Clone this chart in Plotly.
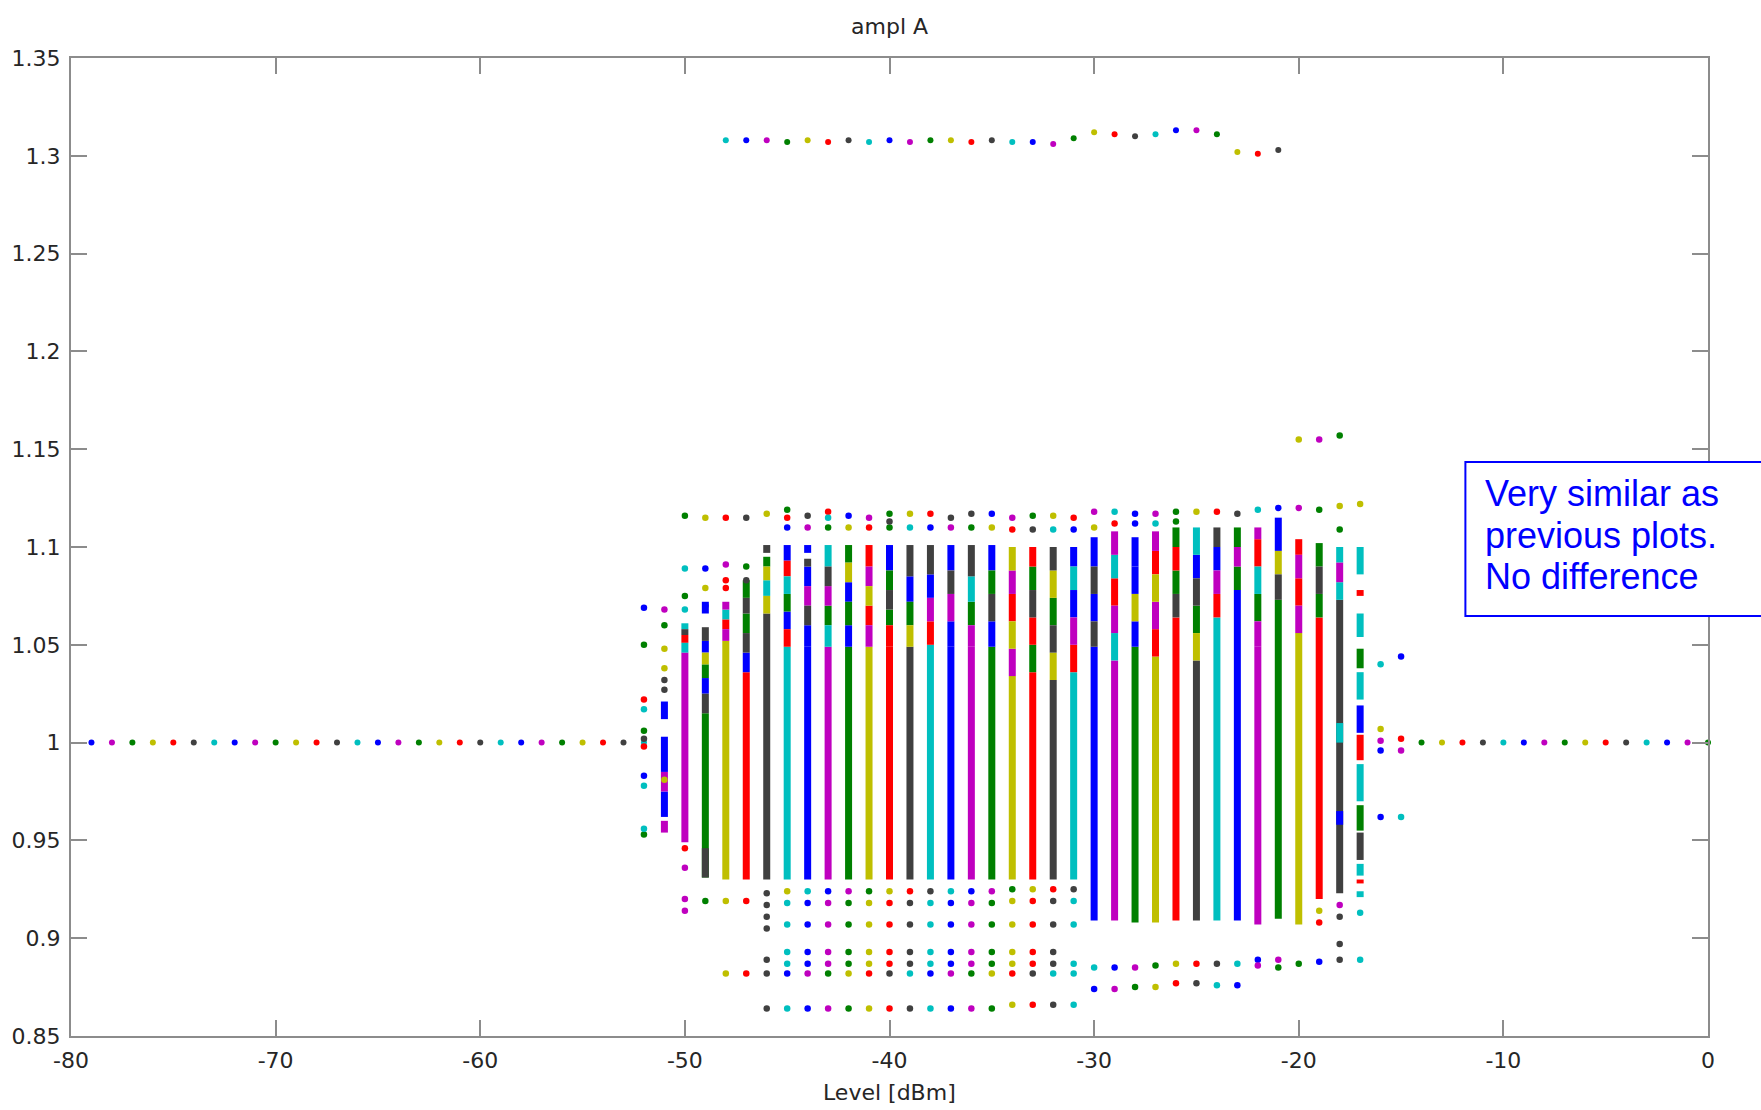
import plotly.graph_objects as go

# MATLAB-style colour order, keyed by single-letter codes
COLORS = {"b": "#0000ff", "g": "#008000", "r": "#ff0000", "c": "#00bfbf",
          "m": "#bf00bf", "y": "#bfbf00", "k": "#404040"}

# ---- flat response (ampl A = 1) at low and high levels -------------------
flat_levels = [-79, -78, -77, -76, -75, -74, -73, -72, -71, -70, -69, -68, -67, -66,
               -65, -64, -63, -62, -61, -60, -59, -58, -57, -56, -55, -54, -53, -52,
               -14, -13, -12, -11, -10, -9, -8, -7, -6, -5, -4, -3, -2, -1, 0]
flat_ampl = [1.0, 1.0, 1.0, 1.0, 1.0, 1.0, 1.0, 1.0, 1.0, 1.0, 1.0, 1.0, 1.0, 1.0,
             1.0, 1.0, 1.0, 1.0, 1.0, 1.0, 1.0, 1.0, 1.0, 1.0, 1.0, 1.0, 1.0, 1.0,
             1.0, 1.0, 1.0, 1.0, 1.0, 1.0, 1.0, 1.0, 1.0, 1.0, 1.0, 1.0, 1.0, 1.0, 1.0]
flat_colors = "bmgyrkcbmgyrkcbmgyrkcbmgyrkc" + "gyrkcbmgyrkcbmg"

# ---- upper branch around 1.3 ---------------------------------------------
upper_levels = [-48, -47, -46, -45, -44, -43, -42, -41, -40, -39, -38, -37, -36, -35,
                -34, -33, -32, -31, -30, -29, -28, -27, -26, -25, -24, -23, -22, -21]
upper_ampl = [1.308, 1.308, 1.308, 1.307, 1.308, 1.307, 1.308, 1.307, 1.308, 1.307,
              1.308, 1.308, 1.307, 1.308, 1.307, 1.307, 1.306, 1.309, 1.312, 1.311,
              1.310, 1.311, 1.313, 1.313, 1.311, 1.302, 1.301, 1.303]
upper_colors = "cbmgyrkcbmgyrkcbmgyrkcbmgyrk"

# ---- dense measurement columns: main run in the level's own colour -------
core_levels = [-50, -49, -48, -47, -46, -45, -44, -43, -42, -41, -40, -39, -38, -37,
               -36, -35, -34, -33, -32, -31, -30, -29, -28, -27, -26, -25, -24, -23,
               -22, -21, -20, -19, -18]
core_lo = [0.949, 0.931, 0.930, 0.930, 0.930, 0.930, 0.930, 0.930, 0.930, 0.930, 0.930,
           0.930, 0.930, 0.930, 0.930, 0.930, 0.930, 0.930, 0.930, 0.930, 0.909, 0.909,
           0.908, 0.908, 0.909, 0.909, 0.909, 0.909, 0.907, 0.910, 0.907, 0.920, 0.923]
core_hi = [1.046, 1.015, 1.052, 1.036, 1.066, 1.049, 1.049, 1.049, 1.049, 1.049, 1.049,
           1.049, 1.050, 1.049, 1.049, 1.049, 1.034, 1.036, 1.032, 1.036, 1.049, 1.042,
           1.049, 1.044, 1.064, 1.042, 1.064, 1.078, 1.049, 1.073, 1.056, 1.064, 1.073]
core_colors = "mgyrkcbmgyrkcbmgyrkcbmgyrkcbmgyrk"

# ---- mixed-colour stretches (upper part of the columns, sparse columns) --
mix_level = [
    -50, -50, -50, -50,
    -49, -49, -49, -49, -49, -49, -49, -49,
    -48, -48, -48, -48,
    -47, -47, -47, -47, -47,
    -46, -46, -46, -46, -46,
    -45, -45, -45, -45, -45, -45,
    -44, -44, -44, -44, -44, -44,
    -43, -43, -43, -43, -43,
    -42, -42, -42, -42, -42,
    -41, -41, -41, -41, -41,
    -40, -40, -40, -40, -40,
    -39, -39, -39, -39,
    -38, -38, -38, -38,
    -37, -37, -37, -37,
    -36, -36, -36, -36,
    -35, -35, -35, -35,
    -34, -34, -34, -34, -34,
    -33, -33, -33, -33, -33,
    -32, -32, -32, -32, -32,
    -31, -31, -31, -31, -31,
    -30, -30, -30, -30,
    -29, -29, -29, -29, -29,
    -28, -28, -28, -28,
    -27, -27, -27, -27, -27,
    -26, -26, -26, -26,
    -25, -25, -25, -25, -25,
    -24, -24, -24, -24,
    -23, -23, -23,
    -22, -22, -22, -22, -22,
    -21, -21, -21,
    -20, -20, -20, -20,
    -19, -19, -19,
    -18, -18, -18, -18, -18,
    -17, -17, -17, -17, -17, -17, -17, -17, -17, -17, -17, -17, -17,
    -51, -51, -51, -51, -51,
]
mix_lo = [
    1.046, 1.051, 1.055, 1.058,
    1.015, 1.025, 1.033, 1.040, 1.046, 1.052, 1.066, 0.931,
    1.052, 1.058, 1.063, 1.068,
    1.036, 1.046, 1.056, 1.066, 1.074,
    1.066, 1.075, 1.083, 1.090, 1.097,
    1.049, 1.058, 1.067, 1.076, 1.085, 1.093,
    1.049, 1.060, 1.070, 1.080, 1.090, 1.097,
    1.049, 1.060, 1.070, 1.080, 1.090,
    1.049, 1.060, 1.072, 1.082, 1.092,
    1.049, 1.060, 1.070, 1.080, 1.090,
    1.049, 1.060, 1.068, 1.078, 1.088,
    1.049, 1.060, 1.072, 1.085,
    1.050, 1.062, 1.074, 1.086,
    1.049, 1.062, 1.076, 1.088,
    1.049, 1.060, 1.072, 1.085,
    1.049, 1.062, 1.076, 1.088,
    1.034, 1.048, 1.062, 1.076, 1.088,
    1.036, 1.050, 1.064, 1.078, 1.090,
    1.032, 1.046, 1.060, 1.074, 1.088,
    1.036, 1.050, 1.064, 1.078, 1.090,
    1.049, 1.062, 1.076, 1.090,
    1.042, 1.056, 1.070, 1.084, 1.096,
    1.049, 1.062, 1.076, 1.090,
    1.044, 1.058, 1.072, 1.086, 1.098,
    1.064, 1.076, 1.088, 1.100,
    1.042, 1.056, 1.070, 1.084, 1.096,
    1.064, 1.076, 1.088, 1.100,
    1.078, 1.090, 1.100,
    1.049, 1.062, 1.076, 1.090, 1.104,
    1.073, 1.086, 1.098,
    1.056, 1.070, 1.084, 1.096,
    1.064, 1.076, 1.090,
    1.073, 1.082, 1.092, 1.000, 0.958,
    1.086, 1.075, 1.054, 1.038, 1.022, 1.005, 0.991, 0.970, 0.955, 0.940, 0.932, 0.928, 0.921,
    1.012, 0.985, 0.975, 0.962, 0.954,
]
mix_hi = [
    1.051, 1.055, 1.058, 1.061,
    1.025, 1.033, 1.040, 1.046, 1.052, 1.059, 1.072, 0.946,
    1.058, 1.063, 1.068, 1.072,
    1.046, 1.056, 1.066, 1.074, 1.083,
    1.075, 1.083, 1.090, 1.095, 1.101,
    1.058, 1.067, 1.076, 1.085, 1.093, 1.101,
    1.060, 1.070, 1.080, 1.090, 1.094, 1.101,
    1.060, 1.070, 1.080, 1.090, 1.101,
    1.060, 1.072, 1.082, 1.092, 1.101,
    1.060, 1.070, 1.080, 1.090, 1.101,
    1.060, 1.068, 1.078, 1.088, 1.101,
    1.060, 1.072, 1.085, 1.101,
    1.062, 1.074, 1.086, 1.101,
    1.062, 1.076, 1.088, 1.101,
    1.060, 1.072, 1.085, 1.101,
    1.062, 1.076, 1.088, 1.101,
    1.048, 1.062, 1.076, 1.088, 1.100,
    1.050, 1.064, 1.078, 1.090, 1.100,
    1.046, 1.060, 1.074, 1.088, 1.100,
    1.050, 1.064, 1.078, 1.090, 1.100,
    1.062, 1.076, 1.090, 1.105,
    1.056, 1.070, 1.084, 1.096, 1.108,
    1.062, 1.076, 1.090, 1.105,
    1.058, 1.072, 1.086, 1.098, 1.108,
    1.076, 1.088, 1.100, 1.110,
    1.056, 1.070, 1.084, 1.096, 1.110,
    1.076, 1.088, 1.100, 1.110,
    1.090, 1.100, 1.110,
    1.062, 1.076, 1.090, 1.104, 1.110,
    1.086, 1.098, 1.115,
    1.070, 1.084, 1.096, 1.104,
    1.076, 1.090, 1.102,
    1.082, 1.092, 1.100, 1.010, 0.965,
    1.100, 1.078, 1.066, 1.048, 1.036, 1.019, 1.004, 0.989, 0.968, 0.954, 0.938, 0.930, 0.924,
    1.021, 1.003, 0.985, 0.975, 0.960,
]
mix_colors = ("crkc" "kbgybkbk" "mrcm" "bkgkg" "ycygk" "rbgcrb" "bkmbkb" "cgmkc"
              "bgbyg" "mrymr" "rgkgb" "ygbk" "rmbk" "bmkb" "mgck" "bkgb" "myrmy"
              "grkgr" "ykgyk" "rmbcb" "kbkb" "cmrcm" "byb" "b" "rmyrm" "kgrg" "ygkbc"
              "rmbk" "gmg" "mgcrm" "kyb" "mrmr" "gkg" "cmccb"
              "crcgcbrcgkcrc" "bbmbm")

# ---- isolated points -----------------------------------------------------
dot_level = [
    -52, -52, -52, -52, -52, -52, -52, -52, -52, -52, -52,
    -51, -51, -51, -51, -51, -51, -51,
    -50, -50, -50, -50, -50, -50, -50, -50,
    -49, -49, -49, -49, -49,
    -48, -48, -48, -48, -48, -48,
    -47, -47, -47, -47, -47,
    -46, -46, -46, -46, -46, -46, -46, -46,
    -45, -45, -45, -44, -44, -43, -43, -43, -42, -42, -41, -41, -40, -40, -40,
    -39, -39, -38, -38, -37, -37, -36, -36, -35, -35, -34, -34, -33, -33,
    -32, -32, -31, -31, -30, -30, -29, -29, -28, -28, -27, -27, -26, -26,
    -25, -24, -23, -22, -21, -20, -19, -18, -18, -17,
    -20, -19, -18,
    -45, -45, -45, -45, -45, -45, -45,
    -44, -44, -44, -44, -44, -44, -44,
    -43, -43, -43, -43, -43, -43, -43,
    -42, -42, -42, -42, -42, -42, -42,
    -41, -41, -41, -41, -41, -41, -41,
    -40, -40, -40, -40, -40, -40, -40,
    -39, -39, -39, -39, -39, -39, -39,
    -38, -38, -38, -38, -38, -38, -38,
    -37, -37, -37, -37, -37, -37, -37,
    -36, -36, -36, -36, -36, -36, -36,
    -35, -35, -35, -35, -35, -35, -35,
    -34, -34, -34, -34, -34, -34, -34,
    -33, -33, -33, -33, -33, -33, -33,
    -32, -32, -32, -32, -32, -32, -32,
    -31, -31, -31, -31, -31, -31,
    -30, -30, -29, -29, -28, -28, -27, -27, -26, -26, -25, -25, -24, -24, -23, -23,
    -22, -22, -21, -21, -20, -19, -19, -19,
    -18, -18, -18, -18, -17, -17,
    -16, -16, -16, -16, -16,
    -15, -15, -15, -15,
]
dot_ampl = [
    1.069, 1.050, 1.022, 1.017, 1.006, 1.002, 0.998, 0.983, 0.978, 0.956, 0.953,
    1.068, 1.060, 1.048, 1.038, 1.032, 1.027, 0.981,
    1.116, 1.089, 1.075, 1.068, 0.946, 0.936, 0.920, 0.914,
    1.115, 1.089, 1.079, 1.070, 0.919,
    1.115, 1.091, 1.083, 1.079, 0.919, 0.882,
    1.115, 1.090, 1.083, 0.919, 0.882,
    1.117, 0.923, 0.917, 0.911, 0.905, 0.889, 0.882, 0.864,
    1.119, 1.115, 1.110, 1.116, 1.110, 1.118, 1.115, 1.110, 1.116, 1.110, 1.115, 1.110,
    1.117, 1.113, 1.110,
    1.117, 1.110, 1.117, 1.110, 1.115, 1.110, 1.117, 1.110, 1.117, 1.110, 1.115, 1.109,
    1.116, 1.109,
    1.116, 1.109, 1.115, 1.109, 1.118, 1.110, 1.118, 1.112, 1.117, 1.112, 1.117, 1.112,
    1.118, 1.113,
    1.118, 1.118, 1.117, 1.119, 1.120, 1.120, 1.119, 1.121, 1.109, 1.122,
    1.155, 1.155, 1.157,
    0.924, 0.918, 0.907, 0.893, 0.887, 0.882, 0.864,
    0.924, 0.918, 0.907, 0.893, 0.887, 0.882, 0.864,
    0.924, 0.918, 0.907, 0.893, 0.887, 0.882, 0.864,
    0.924, 0.918, 0.907, 0.893, 0.887, 0.882, 0.864,
    0.924, 0.918, 0.907, 0.893, 0.887, 0.882, 0.864,
    0.924, 0.918, 0.907, 0.893, 0.887, 0.882, 0.864,
    0.924, 0.918, 0.907, 0.893, 0.887, 0.882, 0.864,
    0.924, 0.918, 0.907, 0.893, 0.887, 0.882, 0.864,
    0.924, 0.918, 0.907, 0.893, 0.887, 0.882, 0.864,
    0.924, 0.918, 0.907, 0.893, 0.887, 0.882, 0.864,
    0.924, 0.918, 0.907, 0.893, 0.887, 0.882, 0.864,
    0.925, 0.919, 0.907, 0.893, 0.887, 0.882, 0.866,
    0.925, 0.919, 0.907, 0.893, 0.887, 0.882, 0.866,
    0.925, 0.919, 0.907, 0.893, 0.887, 0.882, 0.866,
    0.925, 0.919, 0.907, 0.887, 0.882, 0.866,
    0.885, 0.874, 0.885, 0.874, 0.885, 0.875, 0.886, 0.875, 0.887, 0.877, 0.887, 0.877,
    0.887, 0.876, 0.887, 0.876,
    0.889, 0.886, 0.889, 0.885, 0.887, 0.914, 0.908, 0.888,
    0.917, 0.911, 0.897, 0.889, 0.913, 0.889,
    1.040, 1.007, 1.001, 0.996, 0.962,
    1.044, 1.002, 0.996, 0.962,
]
dot_colors = ("bgrcgkrbccg" "mgyykky" "gcgcrmmm" "ybybg" "rmrryy" "kgkrr" "ykkkkkkk"
              "grbkmrcgbymrgkg" "ycrbkmkgbymr" "gk" "ycrbmycrbbmcgg" "yrkcbmgyg" "yy"
              "mgy"
              "ccccbcc" "bbbbmbb" "mmmmgmm" "ggggygg" "yyyyryy" "rrrrkrr" "kkkkckk"
              "ccccbcc" "bbbbmbb" "mmmmgmm" "ggggygg" "yyyyryy" "rrrrkrr" "kkkkckk"
              "cccccc"
              "bbmmggyyrrkkccbb" "mmggyrbm" "kkkccc"
              "ymbbb" "rmcm")

fig = go.Figure()


def add_runs(levels, lo, hi, codes):
    # one line trace per colour: vertical segments level -> [lo, hi]
    for code in "bgrcmyk":
        xs, ys = [], []
        for lv, a, b, c in zip(levels, lo, hi, codes):
            if c == code:
                xs += [lv, lv, None]
                ys += [a, b, None]
        if xs:
            fig.add_trace(go.Scatter(x=xs, y=ys, mode="lines", cliponaxis=False,
                                     line=dict(color=COLORS[code], width=7),
                                     hoverinfo="skip", showlegend=False))


def add_dots(levels, ampl, codes, size=6.5):
    for code in "bgrcmyk":
        xs = [lv for lv, c in zip(levels, codes) if c == code]
        ys = [a for a, c in zip(ampl, codes) if c == code]
        if xs:
            fig.add_trace(go.Scatter(x=xs, y=ys, mode="markers", cliponaxis=False,
                                     marker=dict(color=COLORS[code], size=size),
                                     showlegend=False))


add_runs(core_levels, core_lo, core_hi, core_colors)
add_runs(mix_level, mix_lo, mix_hi, mix_colors)
add_dots(flat_levels, flat_ampl, flat_colors, size=6)
add_dots(upper_levels, upper_ampl, upper_colors, size=6)
add_dots(dot_level, dot_ampl, dot_colors)

x_ticks = [-80, -70, -60, -50, -40, -30, -20, -10, 0]
x_tick_text = ["-80", "-70", "-60", "-50", "-40", "-30", "-20", "-10", "0"]
y_ticks = [0.85, 0.9, 0.95, 1.0, 1.05, 1.1, 1.15, 1.2, 1.25, 1.3, 1.35]
y_tick_text = ["0.85", "0.9", "0.95", "1", "1.05", "1.1", "1.15", "1.2", "1.25", "1.3", "1.35"]

axis_font = dict(family="DejaVu Sans", size=22, color="#262626")
axis_common = dict(showgrid=False, zeroline=False, showline=True, linecolor="#8c8c8c",
                   linewidth=2, mirror="allticks", ticks="inside", ticklen=16,
                   tickwidth=1.5, tickcolor="#8c8c8c", tickfont=axis_font)

note_font = dict(family="Liberation Sans", size=36, color="#0000ff")
note_lines = ["Very similar as", "previous plots.", "No difference"]
note_y = [0.5542, 0.5113, 0.4694]

annotations = [
    dict(text="ampl A", xref="paper", yref="paper", x=0.5, y=1.0317,
         xanchor="center", yanchor="middle", showarrow=False, font=axis_font),
    dict(text="Level [dBm]", xref="paper", yref="paper", x=0.5, y=-0.0575,
         xanchor="center", yanchor="middle", showarrow=False, font=axis_font),
]
for line, yy in zip(note_lines, note_y):
    annotations.append(dict(text=line, xref="paper", yref="paper", x=0.8628, y=yy,
                            xanchor="left", yanchor="middle", align="left",
                            showarrow=False, font=note_font))

fig.update_layout(
    width=1761, height=1110,
    margin=dict(l=68, r=53, t=58, b=74),
    paper_bgcolor="white", plot_bgcolor="white",
    xaxis=dict(range=[-80, 0], tickvals=x_ticks, ticktext=x_tick_text,
               ticklabelstandoff=4, **axis_common),
    yaxis=dict(range=[0.85, 1.35], tickvals=y_ticks, ticktext=y_tick_text,
               ticklabelstandoff=4, **axis_common),
    shapes=[dict(type="rect", xref="paper", yref="paper", layer="above",
                 x0=0.8518, x1=1.04, y0=0.4294, y1=0.5869,
                 line=dict(color="#0000ff", width=2), fillcolor="white")],
    annotations=annotations,
)

fig.write_html("out.html")
